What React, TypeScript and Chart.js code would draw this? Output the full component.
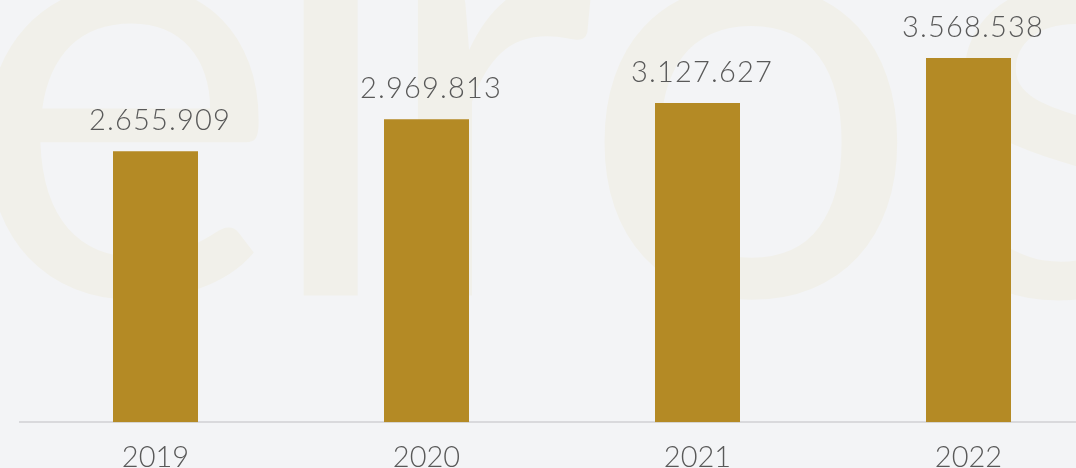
import React, { useEffect, useRef } from "react";
import { Chart, registerables } from "chart.js";

Chart.register(...registerables);

const years: string[] = ["2019", "2020", "2021", "2022"];
const revenue: number[] = [2655909, 2969813, 3127627, 3568538];
const yMin = 0;
const yMax = 4000000;

const BG = "#f3f4f6";
const BAR = "#b48a25";
const TEXT = "#595959";
const WATERMARK = "#f1f0ea";
const FONT = "Lato";

function formatThousands(v: number): string {
  return String(Math.round(v)).replace(/\B(?=(\d{3})+(?!\d))/g, ".");
}

const watermarkPlugin = {
  id: "watermark",
  beforeDraw(chart: any) {
    const ctx = chart.ctx as CanvasRenderingContext2D;
    ctx.save();
    ctx.fillStyle = WATERMARK;
    ctx.font = `400 600px ${FONT}`;
    ctx.textBaseline = "alphabetic";
    ctx.textAlign = "left";
    const mo = ctx.measureText("o");
    const oh = mo.actualBoundingBoxAscent + mo.actualBoundingBoxDescent;
    const scale = 322 / oh;
    const size = 600 * scale;
    ctx.font = `400 ${size}px ${FONT}`;
    const m2 = ctx.measureText("o");
    const baseline = 305 - m2.actualBoundingBoxDescent;
    const place = (ch: string, left: number | null, right: number | null) => {
      const m = ctx.measureText(ch);
      let x = 0;
      if (left !== null) x = left + m.actualBoundingBoxLeft;
      else if (right !== null) x = right - m.actualBoundingBoxRight;
      ctx.fillText(ch, x, baseline);
    };
    place("e", null, 265);
    place("l", 297, null);
    place("r", 413, null);
    place("o", 598, null);
    place("s", 955, null);
    ctx.restore();
  },
};

const valueLabelPlugin = {
  id: "valueLabels",
  afterDatasetsDraw(chart: any) {
    const ctx = chart.ctx as any;
    const meta = chart.getDatasetMeta(0);
    ctx.save();
    ctx.fillStyle = TEXT;
    ctx.font = `300 29px ${FONT}`;
    ctx.textAlign = "center";
    ctx.textBaseline = "alphabetic";
    try {
      ctx.letterSpacing = "1.2px";
    } catch (e) {}
    meta.data.forEach((bar: any, i: number) => {
      ctx.fillText(formatThousands(revenue[i]), bar.x + 4.6, bar.y - 21);
    });
    ctx.restore();
  },
};

export default function App() {
  const canvasRef = useRef<HTMLCanvasElement | null>(null);

  useEffect(() => {
    if (!canvasRef.current) return;
    const chart = new Chart(canvasRef.current, {
      type: "bar",
      data: {
        labels: years,
        datasets: [
          {
            data: revenue,
            backgroundColor: BAR,
            borderWidth: 0,
            barPercentage: 85 / 271,
            categoryPercentage: 1,
          },
        ],
      },
      options: {
        animation: false,
        responsive: false,
        maintainAspectRatio: false,
        layout: { padding: { left: 20, right: 0, top: 14, bottom: 0 } },
        plugins: {
          legend: { display: false },
          tooltip: { enabled: false },
        },
        scales: {
          x: {
            grid: { display: false, drawTicks: false },
            border: { display: true, color: "#d9d9dc", width: 2 },
            ticks: {
              color: TEXT,
              font: { family: FONT, size: 29, weight: "300" as any },
              padding: 18,
            },
          },
          y: {
            display: false,
            min: yMin,
            max: yMax,
          },
        },
      },
      plugins: [watermarkPlugin, valueLabelPlugin],
    });
    return () => chart.destroy();
  }, []);

  return (
    <div
      style={{
        position: "fixed",
        left: 0,
        top: 0,
        width: 1076,
        height: 468,
        overflow: "hidden",
        background: BG,
      }}
    >
      <canvas
        ref={canvasRef}
        width={1104}
        height={493}
        style={{ display: "block", width: 1104, height: 493 }}
      />
    </div>
  );
}
